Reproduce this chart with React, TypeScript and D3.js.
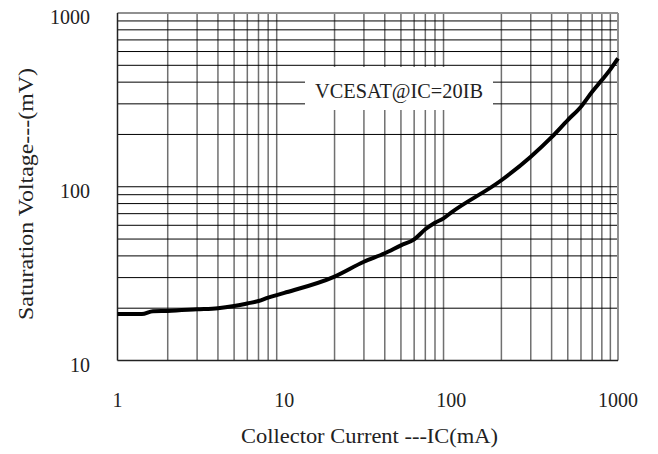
import React from "react";
import * as d3 from "d3";

const currentMA = [1, 1.4, 1.63, 2, 3, 4, 5, 6, 7, 8, 9, 10, 20, 30, 40, 50, 60, 70, 80, 90, 100, 200, 300, 400, 500, 600, 700, 800, 900, 1000];
const vcesatMV = [18.5, 18.5, 19.2, 19.3, 19.7, 20.0, 20.6, 21.3, 22.0, 23.0, 23.8, 24.5, 30.4, 37, 41.4, 46, 49.8, 56.9, 62.1, 65.8, 71, 109, 149, 193, 242, 289, 352, 411, 474, 548];
const xTickLabels = ["1", "10", "100", "1000"];
const yTickLabels = ["10", "100", "1000"];
const legendText = "VCESAT@IC=20IB";

export default function App() {
  const W = 658, H = 454;
  const L = 117.5, R = 618, T = 13, B = 360.5;
  const x = d3.scaleLog().domain([1, 1000]).range([L, R]);
  const y = d3.scaleLog().domain([10, 1000]).range([B, T]);
  const minor: number[] = [];
  [1, 10, 100].forEach((d) => { for (let k = 2; k <= 9; k++) minor.push(d * k); });
  const hLines = [...minor.filter((v) => v >= 20), 100];
  const line = d3.line<number>().x((_, i) => x(currentMA[i])).y((d) => y(d)).curve(d3.curveMonotoneX);
  const font = "'Liberation Serif', 'Times New Roman', serif";
  return (
    <svg width={W} height={H} style={{ position: "absolute", left: 0, top: 0 }}>
      <rect x={0} y={0} width={W} height={H} fill="#fff" />
      {minor.map((v) => (
        <line key={"v" + v} x1={x(v)} x2={x(v)} y1={T} y2={B} stroke="#707070" strokeWidth={1.5} />
      ))}
      {hLines.map((v) => (
        <line key={"h" + v} x1={L} x2={R} y1={y(v)} y2={y(v)} stroke="#000" strokeWidth={1} />
      ))}
      <line x1={L} x2={R} y1={T} y2={T} stroke="#909090" strokeWidth={2} />
      <line x1={R} x2={R} y1={T} y2={B} stroke="#909090" strokeWidth={2} />
      <line x1={L} x2={L} y1={T} y2={B} stroke="#222" strokeWidth={1.5} />
      <line x1={L} x2={R} y1={B} y2={B} stroke="#222" strokeWidth={1.5} />
      <rect x={305} y={67} width={188} height={43} fill="#fff" />
      <text x={399} y={98} textAnchor="middle" fontFamily={font} fontSize={21} fill="#222" textLength={168} lengthAdjust="spacingAndGlyphs">{legendText}</text>
      <path d={line(vcesatMV) || ""} fill="none" stroke="#000" strokeWidth={4} strokeLinejoin="round" />
      {xTickLabels.map((t) => (
        <text key={"xt" + t} x={x(+t)} y={407} textAnchor="middle" fontFamily={font} fontSize={20} fill="#222">{t}</text>
      ))}
      {yTickLabels.map((t) => (
        <text key={"yt" + t} x={90} y={y(+t) + 11} textAnchor="end" fontFamily={font} fontSize={20} fill="#222">{t}</text>
      ))}
      <text x={369.5} y={443} textAnchor="middle" fontFamily={font} fontSize={20} fill="#222" textLength={257} lengthAdjust="spacingAndGlyphs">Collector Current ---IC(mA)</text>
      <text transform={`translate(33,194) rotate(-90)`} textAnchor="middle" fontFamily={font} fontSize={20} fill="#222" textLength={252} lengthAdjust="spacingAndGlyphs">Saturation Voltage---(mV)</text>
    </svg>
  );
}
